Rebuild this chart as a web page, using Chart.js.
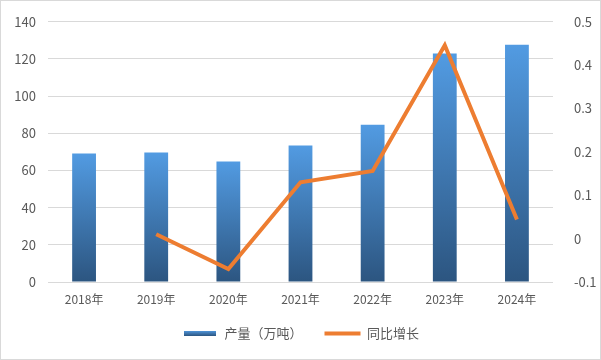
<!DOCTYPE html>
<html>
<head>
<meta charset="utf-8">
<script src="https://cdn.jsdelivr.net/npm/chart.js@4"></script>
<style>
  body { margin: 0; background: #fff; }
  #marco { width: 601px; height: 360px; box-sizing: border-box; border: 1px solid #d9d9d9; background: #fff; }
  canvas { display: block; }
</style>
</head>
<body>
<div id="marco"><canvas id="grafico" width="599" height="358"></canvas></div>
<script>
// datos
const anios = ['2018年', '2019年', '2020年', '2021年', '2022年', '2023年', '2024年'];
const produccion = [69.2, 69.7, 64.9, 73.4, 84.6, 122.9, 127.7];
const crecimiento = [null, 0.01, -0.07, 0.13, 0.156, 0.446, 0.044];

const FUENTE = '"Noto Sans CJK SC", "Noto Sans", sans-serif';
const GRIS = '#595959';

// degradado por barra: claro arriba, oscuro abajo
function degradadoBarra(ctx) {
    const chart = ctx.chart;
    if (!chart.chartArea || ctx.type !== 'data') return '#4f94d8';
    const y = chart.scales.y;
    const arriba = y.getPixelForValue(ctx.raw);
    const base = y.getPixelForValue(0);
    const g = chart.ctx.createLinearGradient(0, arriba, 0, base);
    g.addColorStop(0, '#529be2');
    g.addColorStop(1, '#2c5580');
    return g;
}

// muestra pequeña para la leyenda de barras
const muestra = document.createElement('canvas');
muestra.width = 32; muestra.height = 5;
(function () {
    const c = muestra.getContext('2d');
    const g = c.createLinearGradient(0, 0, 0, 5);
    g.addColorStop(0, '#4f94d8');
    g.addColorStop(1, '#2c5580');
    c.fillStyle = g;
    c.fillRect(0, 0, 32, 5);
})();

new Chart(document.getElementById('grafico'), {
    data: {
        labels: anios,
        datasets: [
            {
                type: 'bar',
                label: '产量（万吨）',
                data: produccion,
                backgroundColor: degradadoBarra,
                categoryPercentage: 1,
                barPercentage: 0.33,
                yAxisID: 'y',
                order: 1
            },
            {
                type: 'line',
                label: '同比增长',
                data: crecimiento,
                borderColor: '#ed7d31',
                borderWidth: 4,
                pointRadius: 0,
                tension: 0,
                yAxisID: 'y1',
                order: 0
            }
        ]
    },
    options: {
        responsive: false,
        animation: false,
        layout: { padding: { top: 14, left: 0, right: 0, bottom: 9 } },
        plugins: {
            tooltip: { enabled: false },
            legend: {
                position: 'bottom',
                labels: {
                    usePointStyle: true,
                    pointStyleWidth: 36,
                    padding: 22,
                    color: GRIS,
                    font: { size: 13, family: FUENTE },
                    sort: (a, b) => a.datasetIndex - b.datasetIndex,
                    generateLabels: () => [
                        { text: '产量（万吨）', pointStyle: muestra, fillStyle: '#4f94d8', strokeStyle: 'transparent', lineWidth: 0, datasetIndex: 0, fontColor: GRIS },
                        { text: '同比增长', pointStyle: 'line', fillStyle: '#ed7d31', strokeStyle: '#ed7d31', lineWidth: 4, datasetIndex: 1, fontColor: GRIS }
                    ]
                }
            }
        },
        scales: {
            x: {
                grid: { display: false },
                border: { display: false },
                ticks: { color: GRIS, font: { size: 12, family: FUENTE }, padding: 2, maxRotation: 0 },
                afterFit: s => { s.height = 23; }
            },
            y: {
                position: 'left',
                min: 0, max: 140,
                ticks: { stepSize: 20, color: GRIS, font: { size: 13, family: FUENTE }, padding: 12 },
                grid: { color: '#d9d9d9', drawTicks: false },
                border: { display: false },
                afterFit: s => { s.width = 47; }
            },
            y1: {
                position: 'right',
                min: -0.1, max: 0.5,
                ticks: { stepSize: 0.1, color: GRIS, font: { size: 13, family: FUENTE }, padding: 13,
                         callback: v => String(+v.toFixed(1)) },
                grid: { display: false },
                border: { display: false },
                afterFit: s => { s.width = 47; }
            }
        }
    }
});
</script>
</body>
</html>
